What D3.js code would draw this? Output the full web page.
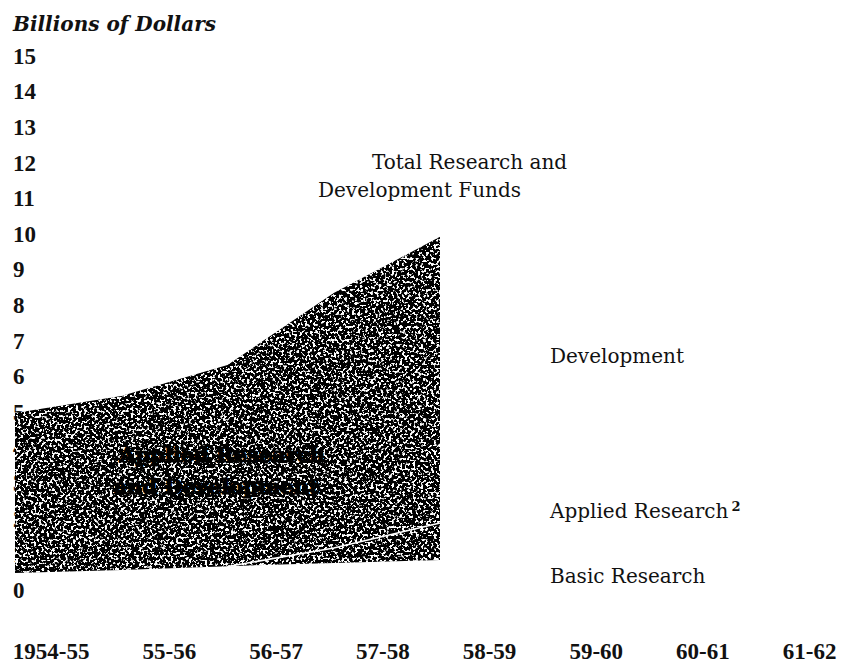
<!DOCTYPE html>
<html>
<head>
<meta charset="utf-8">
<script src="https://cdn.jsdelivr.net/npm/d3@7"></script>
<style>
  html, body { margin: 0; padding: 0; background: #fff; }
  svg { display: block; }
</style>
</head>
<body>
<svg id="chart" width="842" height="663"></svg>
<script>
// ---- data ----
const yTickValues = [0,1,2,3,4,5,6,7,8,9,10,11,12,13,14,15];
const xTickLabels = ["1954-55","55-56","56-57","57-58","58-59","59-60","60-61","61-62"];
const periods = [0,1,2,3,4];
const totalFunds = [4.97,5.45,6.32,8.34,9.92];
const basicResearch = [0.48,0.56,0.67,0.76,0.84];
const appliedTop = [null,null,0.66,1.18,1.88];
const seriesLabels = ["Development","Applied Research","Basic Research"];

const svg = d3.select("#chart");

const y = d3.scaleLinear().domain([0,15]).range([590,56]);
const xData = d3.scaleLinear().domain([0,4]).range([15,440]);
const xLab = d3.scalePoint().domain(xTickLabels).range([89,836]);

// texture filter
const defs = svg.append("defs");
const f = defs.append("filter").attr("id","speckle")
  .attr("x","0").attr("y","0").attr("width","1").attr("height","1");
f.append("feTurbulence").attr("type","fractalNoise").attr("baseFrequency","0.38")
  .attr("numOctaves","2").attr("seed","7").attr("result","noise");
f.append("feColorMatrix").attr("in","noise").attr("type","matrix")
  .attr("values","0 0 0 0 1  0 0 0 0 1  0 0 0 0 1  14 0 0 0 -7.7").attr("result","white");
f.append("feComposite").attr("in","white").attr("in2","SourceGraphic").attr("operator","in").attr("result","speck");
const m = f.append("feMerge");
m.append("feMergeNode").attr("in","SourceGraphic");
m.append("feMergeNode").attr("in","speck");

const serif = "'DejaVu Serif', serif";
const tnr = "'Liberation Serif', 'Times New Roman', serif";

// y axis (drawn first, partly covered by area)
const yAxis = svg.append("g").attr("transform","translate(13,0)")
  .call(d3.axisLeft(y).tickValues(yTickValues).tickSize(0).tickFormat(d3.format("d")));
yAxis.select(".domain").remove();
yAxis.selectAll("text").attr("x",0).attr("text-anchor","start")
  .attr("font-family",tnr).attr("font-weight","bold").attr("font-size",23).attr("fill","#111");

// x axis
const xAxis = svg.append("g").attr("transform","translate(0,659)")
  .call(d3.axisBottom(xLab).tickSize(0));
xAxis.select(".domain").remove();
xAxis.selectAll("text").attr("y",0).attr("dy",0).attr("text-anchor","end")
  .attr("font-family",tnr).attr("font-weight","bold").attr("font-size",23).attr("fill","#111");

// area
const rows = periods.map((p,i)=>({p, lo: basicResearch[i], hi: totalFunds[i], ap: appliedTop[i]}));
const area = d3.area().x(d=>xData(d.p)).y0(d=>y(d.lo)).y1(d=>y(d.hi));
svg.append("path").datum(rows).attr("d",area).attr("fill","#000").attr("filter","url(#speckle)");

// applied research boundary line
const line = d3.line().defined(d=>d.ap!=null).x(d=>xData(d.p)).y(d=>y(d.ap));
svg.append("path").datum(rows).attr("d",line).attr("fill","none").attr("stroke","#fff").attr("stroke-width",1.6);

// in-area label
const inLab = svg.append("text").attr("font-family",serif).attr("font-weight","bold")
  .attr("font-size",21).attr("fill","#000").attr("stroke","#000").attr("stroke-width",1.2).attr("text-anchor","middle");
inLab.append("tspan").attr("x",222).attr("y",462).text("Applied Research");
inLab.append("tspan").attr("x",216).attr("y",494).text("and Development");

// y-axis title
svg.append("text").attr("x",13).attr("y",31).attr("font-family",serif).attr("font-style","italic")
  .attr("font-weight","bold").attr("font-size",20).attr("fill","#111").text("Billions of Dollars");

// annotation
svg.append("text").attr("x",372).attr("y",169).attr("font-family",serif).attr("font-size",20).attr("fill","#111").text("Total Research and");
svg.append("text").attr("x",318).attr("y",197).attr("font-family",serif).attr("font-size",20).attr("fill","#111").text("Development Funds");

// series labels on right
const labY = [363,518,583];
seriesLabels.forEach((t,i)=>{
  const tx = svg.append("text").attr("x",550).attr("y",labY[i]).attr("font-family",serif)
    .attr("font-size",20).attr("fill","#111").text(t);
  if (i===1) tx.append("tspan").attr("dx",3).attr("dy",-7).attr("font-size",13).attr("font-weight","bold").text("2");
});
</script>
</body>
</html>
